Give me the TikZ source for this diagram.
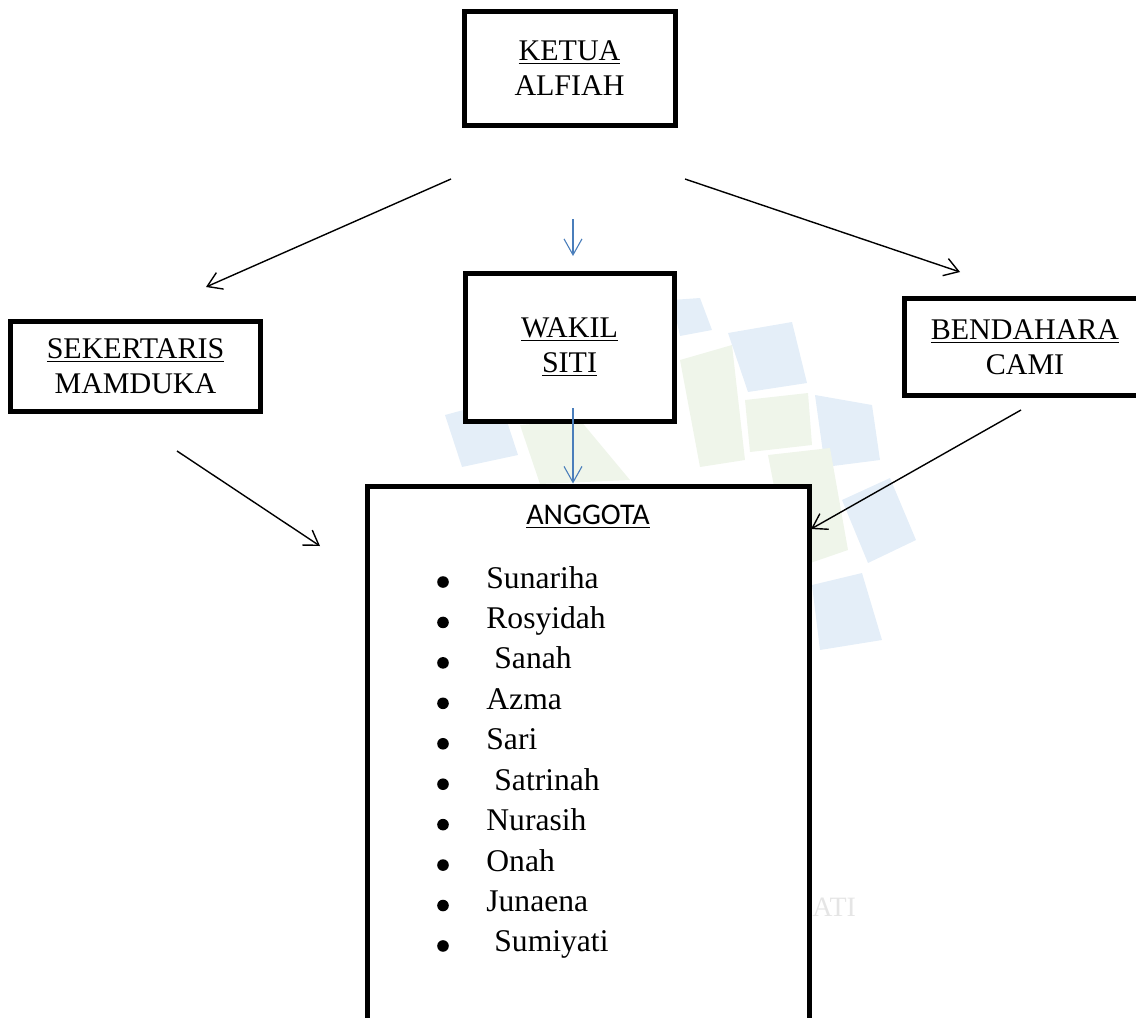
\documentclass[tikz,border=0pt]{standalone}
\usepackage{fontspec}
\setmainfont{Liberation Serif}
\newfontfamily\calfont{Carlito}
\usetikzlibrary{arrows.meta}
\definecolor{wordblue}{HTML}{4A7EBB}
\definecolor{wmblue}{HTML}{E4EEF8}
\definecolor{wmgreen}{HTML}{EFF5EA}
\tikzset{
 orgbox/.style={draw=black, line width=2.5pt, fill=white, align=center, inner sep=0pt, font=\fontsize{15}{17.5}\selectfont},
 blackarrow/.style={draw=black, line width=0.7pt, -{Straight Barb[length=7pt,width=9pt,line width=0.7pt]}},
 bluearrow/.style={draw=wordblue, line width=0.55pt, -{Straight Barb[length=8pt,width=9pt,line width=0.55pt]}},
 member/.style={anchor=base west, inner sep=0pt, font=\fontsize{15.8}{18}\selectfont},
 dotmark/.style={circle, fill=black, inner sep=0pt, minimum size=5.8pt},
 wmb/.style={fill=wmblue, draw=none},
 wmg/.style={fill=wmgreen, draw=none},
}
\begin{document}
\begin{tikzpicture}[x=0.5pt,y=-0.5pt]
\useasboundingbox (0,0) rectangle (1136,1018);
\clip (0,0) rectangle (1136,1018);
% faint watermark
\fill[wmb] (672,300) -- (700,298) -- (712,330) -- (680,336) -- cycle;
\fill[wmb] (728,333) -- (792,322) -- (807,383) -- (748,392) -- cycle;
\fill[wmb] (815,395) -- (872,405) -- (880,460) -- (825,467) -- cycle;
\fill[wmb] (842,500) -- (890,478) -- (916,540) -- (868,563) -- cycle;
\fill[wmb] (812,585) -- (862,573) -- (882,640) -- (820,650) -- cycle;
\fill[wmb] (445,415) -- (500,400) -- (518,455) -- (462,467) -- cycle;
\fill[wmg] (680,360) -- (732,345) -- (745,460) -- (700,467) -- cycle;
\fill[wmg] (745,400) -- (808,393) -- (812,445) -- (750,452) -- cycle;
\fill[wmg] (768,455) -- (830,448) -- (848,550) -- (790,570) -- cycle;
\fill[wmg] (520,425) -- (580,420) -- (630,480) -- (540,484) -- cycle;
\node[anchor=base west, inner sep=0pt, text=black!10, font=\fontsize{14}{16}\selectfont] (wmtext) at (812,916) {ATI};

% boxes
\node[orgbox, minimum width=105.5pt, minimum height=57pt] (ketua) at (569.5,68) {\underline{KETUA}\\ALFIAH};
\node[orgbox, minimum width=125pt, minimum height=45pt] (sekertaris) at (135.5,366) {\underline{SEKERTARIS}\\MAMDUKA};
\node[orgbox, minimum width=104.5pt, minimum height=74pt] (wakil) at (569.5,347) {\underline{WAKIL}\\\underline{SITI}};
\node[orgbox, minimum width=121pt, minimum height=48.75pt] (bendahara) at (1025,347) {\underline{BENDAHARA}\\CAMI};
\node[orgbox, minimum width=221.25pt, minimum height=290pt] (anggota) at (588.5,776) {};

\node[anchor=base, inner sep=0pt, font=\calfont\fontsize{15}{17}\selectfont] (anggotatitle) at (588,524) {\underline{ANGGOTA}};

\foreach \name/\off [count=\i from 0] in {Sunariha/0, Rosyidah/0, Sanah/8, Azma/0, Sari/0, Satrinah/8, Nurasih/0, Onah/0, Junaena/0, Sumiyati/8}{
  \node[dotmark] (b\i) at (443,{582+40.44*\i}) {};
  \node[member] (m\i) at ({486+\off},{588+40.44*\i}) {\name};
}

% connectors
\coordinate (kL) at (451,179);
\coordinate (sT) at (206,287);
\coordinate (kR) at (685,179);
\coordinate (bT) at (960,272);
\coordinate (kC) at (573,219);
\coordinate (wT) at (573,256);
\coordinate (wB) at (573,408);
\coordinate (sB) at (177,451);
\coordinate (aL) at (320,546);
\coordinate (bB) at (1021,410);
\coordinate (aR) at (811,529);

\draw[blackarrow] (kL) -- (sT);
\draw[blackarrow] (kR) -- (bT);
\draw[bluearrow] (kC) -- (wT);
\draw[bluearrow] (wB) -- (wB |- anggota.north);
\draw[blackarrow] (sB) -- (aL);
\draw[blackarrow] (bB) -- (aR);
\end{tikzpicture}
\end{document}
